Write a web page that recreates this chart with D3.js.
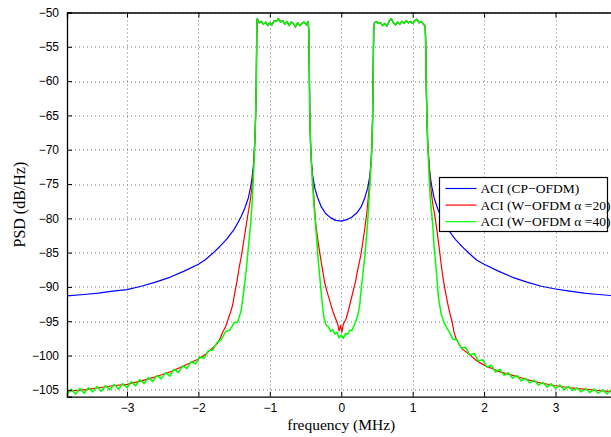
<!DOCTYPE html>
<html lang="en">
<head>
    <meta charset="UTF-8">
    <title>ACI PSD</title>
    <script src="https://d3js.org/d3.v7.min.js"></script>
    <style>
        body {
            margin: 0;
            background: #ffffff;
            overflow: hidden;
        }
        .tick-label {
            font-family: "Liberation Sans", Arial, sans-serif;
            font-size: 12px;
            fill: #000;
        }
        .axis-title, .legend-text {
            font-family: "Liberation Serif", "Times New Roman", serif;
            fill: #000;
        }
    </style>
</head>
<body>
<script>
    // axis ticks
    const xTicks = [-3, -2, -1, 0, 1, 2, 3];
    const yTicks = [-105, -100, -95, -90, -85, -80, -75, -70, -65, -60, -55, -50];

    // in-band PSD (same signal for all three curves) [MHz, dB/Hz]
    const inBandLeft = [
        [-1.18, -51.5], [-1.175, -50.9], [-1.15, -51.5], [-1.12, -51.3], [-1.09, -51.7], [-1.06, -51.4],
        [-1.03, -51.9], [-1.00, -51.5], [-0.97, -51.8], [-0.94, -51.2], [-0.91, -51.3], [-0.88, -50.9],
        [-0.85, -51.4], [-0.82, -51.2], [-0.79, -51.7], [-0.76, -51.3], [-0.73, -51.9], [-0.70, -51.4],
        [-0.67, -51.6], [-0.64, -52.1], [-0.61, -51.5], [-0.58, -51.9], [-0.55, -51.6], [-0.52, -51.4],
        [-0.49, -51.8], [-0.465, -51.3], [-0.455, -52.5]
    ];
    const inBandRight = [
        [0.455, -52.4], [0.465, -51.5], [0.49, -51.3], [0.52, -51.6], [0.55, -51.5], [0.58, -51.9],
        [0.61, -51.6], [0.64, -52.0], [0.67, -51.3], [0.70, -50.9], [0.73, -51.5], [0.76, -51.8],
        [0.79, -51.4], [0.82, -51.7], [0.85, -51.3], [0.88, -51.6], [0.91, -51.2], [0.94, -51.5],
        [0.97, -51.3], [1.00, -51.6], [1.03, -51.2], [1.06, -51.0], [1.09, -51.5], [1.12, -51.3],
        [1.15, -51.7], [1.175, -52.0], [1.18, -53.5]
    ];

    // ACI (CP-OFDM)
    const cpLeft = [
        [-3.84, -91.3], [-3.6, -91.1], [-3.4, -90.9], [-3.2, -90.6], [-3.0, -90.4], [-2.8, -89.9],
        [-2.6, -89.3], [-2.4, -88.6], [-2.2, -87.7], [-2.0, -86.7], [-1.9, -86.0], [-1.8, -85.1],
        [-1.7, -84.1], [-1.6, -83.0], [-1.5, -81.6], [-1.45, -80.7], [-1.4, -79.7], [-1.35, -78.5],
        [-1.3, -77.0], [-1.27, -75.5], [-1.25, -74.2], [-1.23, -72.3], [-1.21, -68.8], [-1.20, -65.5],
        [-1.19, -60.5], [-1.185, -55.0]
    ];
    const cpCenter = [
        [-0.45, -56.0], [-0.445, -60.5], [-0.44, -65.0], [-0.43, -69.0], [-0.42, -71.5], [-0.40, -73.8],
        [-0.37, -75.6], [-0.33, -77.0], [-0.28, -78.3], [-0.22, -79.3], [-0.15, -79.9], [-0.08, -80.3],
        [0, -80.4], [0.08, -80.2], [0.15, -79.8], [0.22, -79.2], [0.28, -78.3], [0.33, -77.0],
        [0.37, -75.6], [0.40, -73.8], [0.42, -71.5], [0.43, -69.0], [0.44, -65.0], [0.445, -60.5], [0.45, -56.0]
    ];
    const cpRight = [
        [1.185, -56.0], [1.19, -60.5], [1.20, -65.5], [1.21, -68.8], [1.23, -72.3], [1.25, -74.2],
        [1.27, -75.5], [1.3, -77.0], [1.35, -78.6], [1.4, -79.8], [1.45, -80.8], [1.5, -81.7],
        [1.6, -83.1], [1.7, -84.2], [1.8, -85.2], [1.9, -86.1], [2.0, -86.7], [2.2, -87.7],
        [2.4, -88.6], [2.6, -89.3], [2.8, -89.9], [3.0, -90.3], [3.2, -90.6], [3.4, -90.9],
        [3.6, -91.1], [3.84, -91.3]
    ];

    // ACI (W-OFDM alpha = 20)
    const w20Left = [
        [-3.84, -105.2], [-3.6, -105.0], [-3.4, -104.7], [-3.2, -104.4], [-3.0, -104.2], [-2.8, -103.7],
        [-2.6, -103.1], [-2.4, -102.4], [-2.2, -101.5], [-2.0, -100.5], [-1.9, -99.8], [-1.8, -98.9],
        [-1.74, -98.3], [-1.70, -97.6], [-1.66, -96.6], [-1.62, -95.8], [-1.58, -94.6], [-1.55, -93.7],
        [-1.52, -92.6], [-1.49, -90.8], [-1.46, -89.2], [-1.43, -87.2], [-1.40, -85.6], [-1.37, -83.6],
        [-1.34, -81.6], [-1.31, -79.6], [-1.28, -77.8], [-1.25, -75.5], [-1.23, -72.8], [-1.21, -68.8],
        [-1.20, -65.5], [-1.19, -60.5], [-1.185, -55.0]
    ];
    const w20Center = [
        [-0.45, -56.0], [-0.445, -60.5], [-0.44, -65.0], [-0.43, -69.0], [-0.42, -71.5], [-0.40, -74.5],
        [-0.38, -77.5], [-0.36, -80.5], [-0.33, -83.0], [-0.30, -85.1], [-0.27, -87.0], [-0.23, -89.5],
        [-0.19, -91.0], [-0.15, -92.4], [-0.12, -93.5], [-0.08, -94.6], [-0.05, -95.4], [-0.03, -96.4],
        [-0.01, -95.6], [0.01, -96.6], [0.03, -95.4], [0.07, -94.6], [0.11, -93.0], [0.16, -90.9],
        [0.20, -89.2], [0.23, -87.5], [0.27, -85.6], [0.30, -83.6], [0.33, -81.5], [0.36, -79.0],
        [0.38, -76.8], [0.40, -74.5], [0.42, -71.5], [0.43, -69.0], [0.44, -65.0], [0.445, -60.5], [0.45, -56.0]
    ];
    const w20Right = [
        [1.185, -56.0], [1.19, -60.5], [1.20, -65.5], [1.21, -68.8], [1.23, -72.3], [1.25, -75.2],
        [1.28, -77.8], [1.31, -79.6], [1.34, -81.8], [1.37, -84.2], [1.40, -86.8], [1.43, -89.0],
        [1.46, -90.8], [1.49, -92.4], [1.52, -93.8], [1.55, -95.0], [1.58, -96.6], [1.61, -97.6],
        [1.65, -98.4], [1.7, -99.1], [1.8, -99.9], [1.9, -100.8], [2.0, -101.4], [2.2, -102.3],
        [2.4, -102.9], [2.6, -103.5], [2.8, -104.0], [3.0, -104.4], [3.2, -104.7], [3.4, -104.9],
        [3.6, -105.1], [3.84, -105.3]
    ];

    // ACI (W-OFDM alpha = 40)
    const w40Left = [
        [-3.84, -105.7], [-3.78, -104.9], [-3.72, -105.6], [-3.66, -104.8], [-3.60, -105.5], [-3.54, -104.7],
        [-3.48, -105.3], [-3.42, -104.5], [-3.36, -105.2], [-3.30, -104.4], [-3.24, -105.0], [-3.18, -104.2],
        [-3.12, -104.9], [-3.06, -104.1], [-3.00, -104.7], [-2.94, -103.8], [-2.88, -104.4], [-2.82, -103.5],
        [-2.76, -104.1], [-2.70, -103.2], [-2.64, -103.8], [-2.58, -102.9], [-2.52, -103.4], [-2.46, -102.5],
        [-2.40, -103.0], [-2.34, -102.0], [-2.28, -102.5], [-2.22, -101.5], [-2.16, -101.9], [-2.10, -100.9],
        [-2.04, -101.2], [-1.98, -100.2], [-1.92, -100.4], [-1.86, -99.3], [-1.80, -99.2], [-1.74, -98.1],
        [-1.68, -97.7], [-1.62, -96.5], [-1.56, -96.3], [-1.50, -95.2], [-1.45, -95.1], [-1.40, -93.4],
        [-1.37, -91.0], [-1.33, -87.5], [-1.30, -84.2], [-1.27, -81.0], [-1.25, -78.0], [-1.23, -74.0],
        [-1.21, -69.0], [-1.20, -65.5], [-1.19, -60.5], [-1.185, -55.0]
    ];
    const w40Center = [
        [-0.45, -56.0], [-0.445, -60.5], [-0.44, -65.0], [-0.43, -69.0], [-0.42, -71.5], [-0.40, -75.4],
        [-0.38, -78.5], [-0.35, -82.2], [-0.33, -85.0], [-0.31, -87.5], [-0.28, -90.9], [-0.26, -93.0],
        [-0.24, -94.6], [-0.21, -95.6], [-0.18, -95.8], [-0.15, -96.5], [-0.12, -96.2], [-0.09, -96.9],
        [-0.06, -96.6], [-0.03, -97.4], [0, -97.0], [0.03, -97.5], [0.06, -96.8], [0.09, -96.9],
        [0.12, -96.3], [0.15, -96.4], [0.18, -95.6], [0.21, -94.8], [0.24, -93.8], [0.26, -92.5],
        [0.28, -90.2], [0.31, -87.5], [0.33, -85.5], [0.36, -82.0], [0.38, -78.8], [0.40, -75.4],
        [0.42, -71.5], [0.43, -69.0], [0.44, -65.0], [0.445, -60.5], [0.45, -56.0]
    ];
    const w40Right = [
        [1.185, -56.0], [1.19, -60.5], [1.20, -65.5], [1.21, -69.0], [1.23, -74.0], [1.25, -77.5],
        [1.28, -80.8], [1.30, -84.2], [1.33, -87.5], [1.36, -91.5], [1.40, -94.0], [1.44, -95.2],
        [1.48, -96.0], [1.52, -96.7], [1.56, -97.6], [1.62, -97.7], [1.68, -98.9], [1.74, -98.8],
        [1.80, -99.9], [1.86, -99.7], [1.92, -100.8], [1.98, -100.6], [2.04, -101.7], [2.10, -101.4],
        [2.16, -102.4], [2.22, -102.0], [2.28, -102.9], [2.34, -102.5], [2.40, -103.3], [2.46, -102.9],
        [2.52, -103.7], [2.58, -103.3], [2.64, -104.0], [2.70, -103.6], [2.76, -104.3], [2.82, -103.9],
        [2.88, -104.6], [2.94, -104.1], [3.00, -104.8], [3.06, -104.3], [3.12, -105.0], [3.18, -104.5],
        [3.24, -105.1], [3.30, -104.7], [3.36, -105.3], [3.42, -104.8], [3.48, -105.4], [3.54, -104.9],
        [3.60, -105.5], [3.66, -105.0], [3.72, -105.6], [3.78, -105.0], [3.84, -105.5]
    ];

    const seriesNames = ["ACI (CP\u2212OFDM)", "ACI (W\u2212OFDM \u03b1 =20)", "ACI (W\u2212OFDM \u03b1 =40)"];
    const seriesColors = ["#0000ff", "#ff0000", "#00ff00"];

    const series = [
        [...cpLeft, ...inBandLeft, ...cpCenter, ...inBandRight, ...cpRight],
        [...w20Left, ...inBandLeft, ...w20Center, ...inBandRight, ...w20Right],
        [...w40Left, ...inBandLeft, ...w40Center, ...inBandRight, ...w40Right]
    ];

    const width = 611, height = 437;
    const margin = {top: 12.5, left: 67, right: -4.5, bottom: 40.3};
    const plotW = width - margin.left - margin.right;
    const plotH = height - margin.top - margin.bottom;

    const svg = d3.select("body").append("svg")
        .attr("width", width)
        .attr("height", height);

    const g = svg.append("g")
        .attr("transform", `translate(${margin.left},${margin.top})`);

    const x = d3.scaleLinear().domain([-3.84, 3.84]).range([0, plotW]);
    const y = d3.scaleLinear().domain([-106, -50]).range([plotH, 0]);

    const minus = v => String(v).replace("-", "\u2212");

    // grid
    g.append("g").selectAll("line")
        .data(xTicks)
        .enter().append("line")
        .attr("x1", d => Math.round(x(d)) + 0.5).attr("x2", d => Math.round(x(d)) + 0.5)
        .attr("y1", 0).attr("y2", plotH)
        .attr("stroke", "#777").attr("stroke-width", 1).attr("stroke-dasharray", "1,3");
    g.append("g").selectAll("line")
        .data(yTicks)
        .enter().append("line")
        .attr("y1", d => Math.round(y(d)) + 0.5).attr("y2", d => Math.round(y(d)) + 0.5)
        .attr("x1", 0).attr("x2", plotW)
        .attr("stroke", "#777").attr("stroke-width", 1).attr("stroke-dasharray", "1,3");

    // curves
    svg.append("defs").append("clipPath").attr("id", "clip")
        .append("rect").attr("width", plotW).attr("height", plotH);

    const line = d3.line().x(d => x(d[0])).y(d => y(d[1]));

    g.append("g").attr("clip-path", "url(#clip)")
        .selectAll("path")
        .data(series)
        .enter().append("path")
        .attr("d", line)
        .attr("fill", "none")
        .attr("stroke", (d, i) => seriesColors[i])
        .attr("stroke-width", (d, i) => i === 2 ? 1.5 : 1.2)
        .attr("stroke-linejoin", "round");

    // axes (MATLAB style ticks inside)
    const xAxis = d3.axisBottom(x).tickValues(xTicks).tickSize(-5).tickPadding(7).tickFormat(minus);
    const yAxis = d3.axisLeft(y).tickValues(yTicks).tickSize(-5).tickPadding(8).tickFormat(minus);
    const xTop = d3.axisTop(x).tickValues(xTicks).tickSize(-5).tickFormat("");

    [g.append("g").attr("transform", `translate(0,${plotH})`).call(xAxis),
     g.append("g").call(yAxis),
     g.append("g").call(xTop)].forEach(a => {
        a.select(".domain").attr("stroke", "#000").attr("stroke-width", 1.3);
        a.selectAll(".tick line").attr("stroke", "#000");
        a.selectAll(".tick text").attr("class", "tick-label").attr("font-family", null).attr("font-size", null);
    });

    // axis titles
    svg.append("text")
        .attr("class", "axis-title")
        .attr("x", margin.left + x(0))
        .attr("y", 429.5)
        .attr("text-anchor", "middle")
        .attr("font-size", 15.5)
        .text("frequency (MHz)");

    svg.append("text")
        .attr("class", "axis-title")
        .attr("transform", `translate(25,${margin.top + plotH / 2}) rotate(-90)`)
        .attr("text-anchor", "middle")
        .attr("font-size", 16)
        .text("PSD (dB/Hz)");

    // legend
    const legend = svg.append("g").attr("transform", "translate(439.5,177.5)");
    legend.append("rect")
        .attr("width", 168).attr("height", 54)
        .attr("fill", "#fff").attr("stroke", "#000").attr("stroke-width", 1.2);

    const item = legend.selectAll(".item")
        .data(seriesNames)
        .enter().append("g")
        .attr("transform", (d, i) => `translate(0,${11 + i * 16.6})`);
    item.append("line")
        .attr("x1", 6).attr("x2", 37)
        .attr("stroke", (d, i) => seriesColors[i]).attr("stroke-width", 1.2);
    item.append("text")
        .attr("class", "legend-text")
        .attr("x", 41).attr("y", 4.5)
        .attr("font-size", 13.5)
        .text(d => d);
</script>
</body>
</html>
